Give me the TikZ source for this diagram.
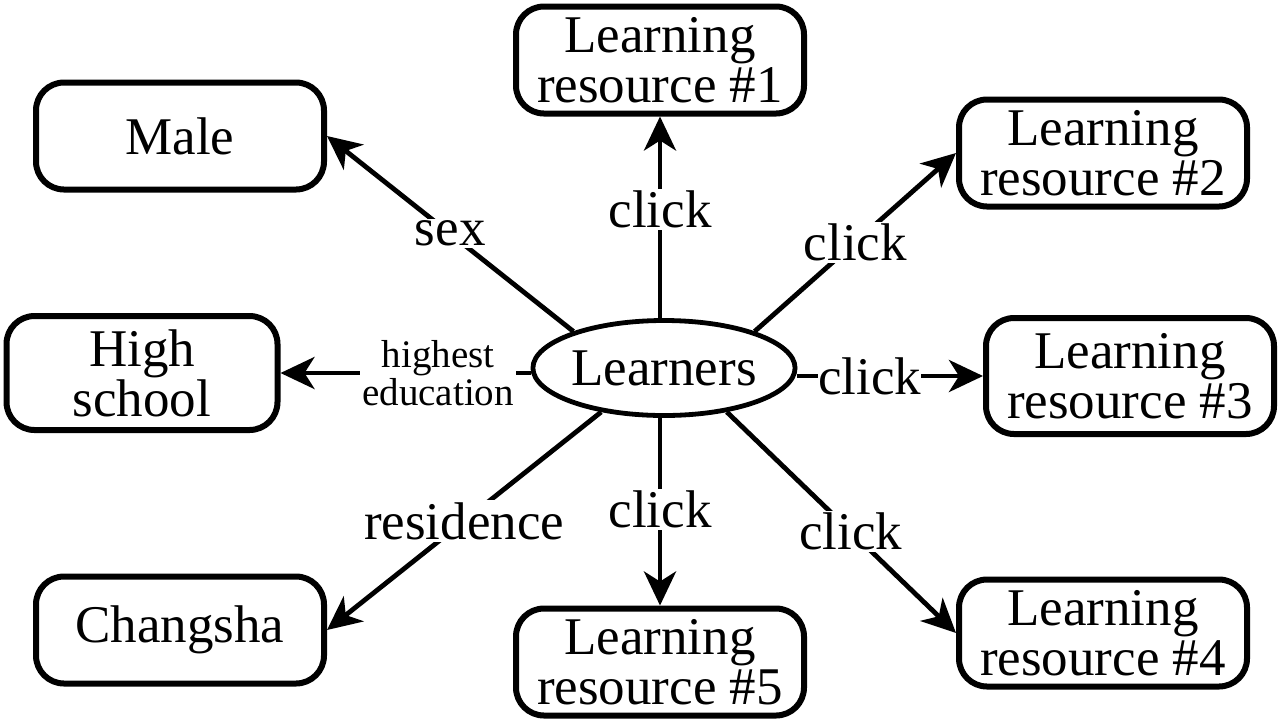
\documentclass[tikz,border=0pt]{standalone}
\usepackage{fontspec}
\setmainfont{Liberation Serif}
\usetikzlibrary{arrows.meta,shapes.geometric}
\begin{document}
\begin{tikzpicture}[x=0.5pt,y=-0.5pt,
 box/.style={draw,line width=3pt,rounded corners=14pt,minimum width=144pt,minimum height=53.5pt,align=center,font=\fontsize{26.5}{25}\selectfont,inner sep=0pt},
 conn/.style={line width=2.4pt},
 arr/.style={conn,-{Stealth[length=17pt,width=16pt,inset=5pt]}},
 lab/.style={fill=white,inner sep=1pt,font=\fontsize{26.5}{25}\selectfont},
 slab/.style={fill=white,inner sep=1pt,align=center,font=\fontsize{19.5}{16}\selectfont}]
\useasboundingbox (0,0) rectangle (1280,725);
\node[box] (male) at (180,136) {Male};
\node[box] (r1) at (660,60) {Learning\\resource \#1};
\node[box] (r2) at (1103,153) {Learning\\resource \#2};
\node[box,minimum width=135.5pt,minimum height=57pt] (hs) at (142,373) {High\\school};
\node[box,minimum height=58pt] (r3) at (1130,376) {Learning\\resource \#3};
\node[box] (cs) at (180,630) {Changsha};
\node[box] (r5) at (660,662) {Learning\\resource \#5};
\node[box] (r4) at (1103,633) {Learning\\resource \#4};
\node[draw,ellipse,line width=2.4pt,minimum width=117pt,minimum height=47.5pt,inner sep=0pt,font=\fontsize{26.5}{25}\selectfont] (L) at (664,368) {Learners};
\draw[arr] (L.158) -- node[lab,pos=0.5]{sex} (male.east);
\draw[arr] (L.north -| r1.south) -- node[lab,pos=0.54]{click} (r1.south);
\draw[arr] (L.22) -- node[lab,pos=0.5]{click} (r2.west);
\draw[arr] (hs.east -| L.west) -- node[slab,pos=0.37]{highest\\education} (hs.east);
\draw[arr] (r3.west -| L.east) -- node[lab,pos=0.39,inner sep=0pt]{click} (r3.west);
\draw[arr] (L.-145) -- node[lab,pos=0.5]{residence} (cs.east);
\draw[arr] (L.south -| r5.north) -- node[lab,pos=0.49]{click} (r5.north);
\draw[arr] (L.-35) -- node[lab,pos=0.54]{click} (r4.west);
\end{tikzpicture}
\end{document}
